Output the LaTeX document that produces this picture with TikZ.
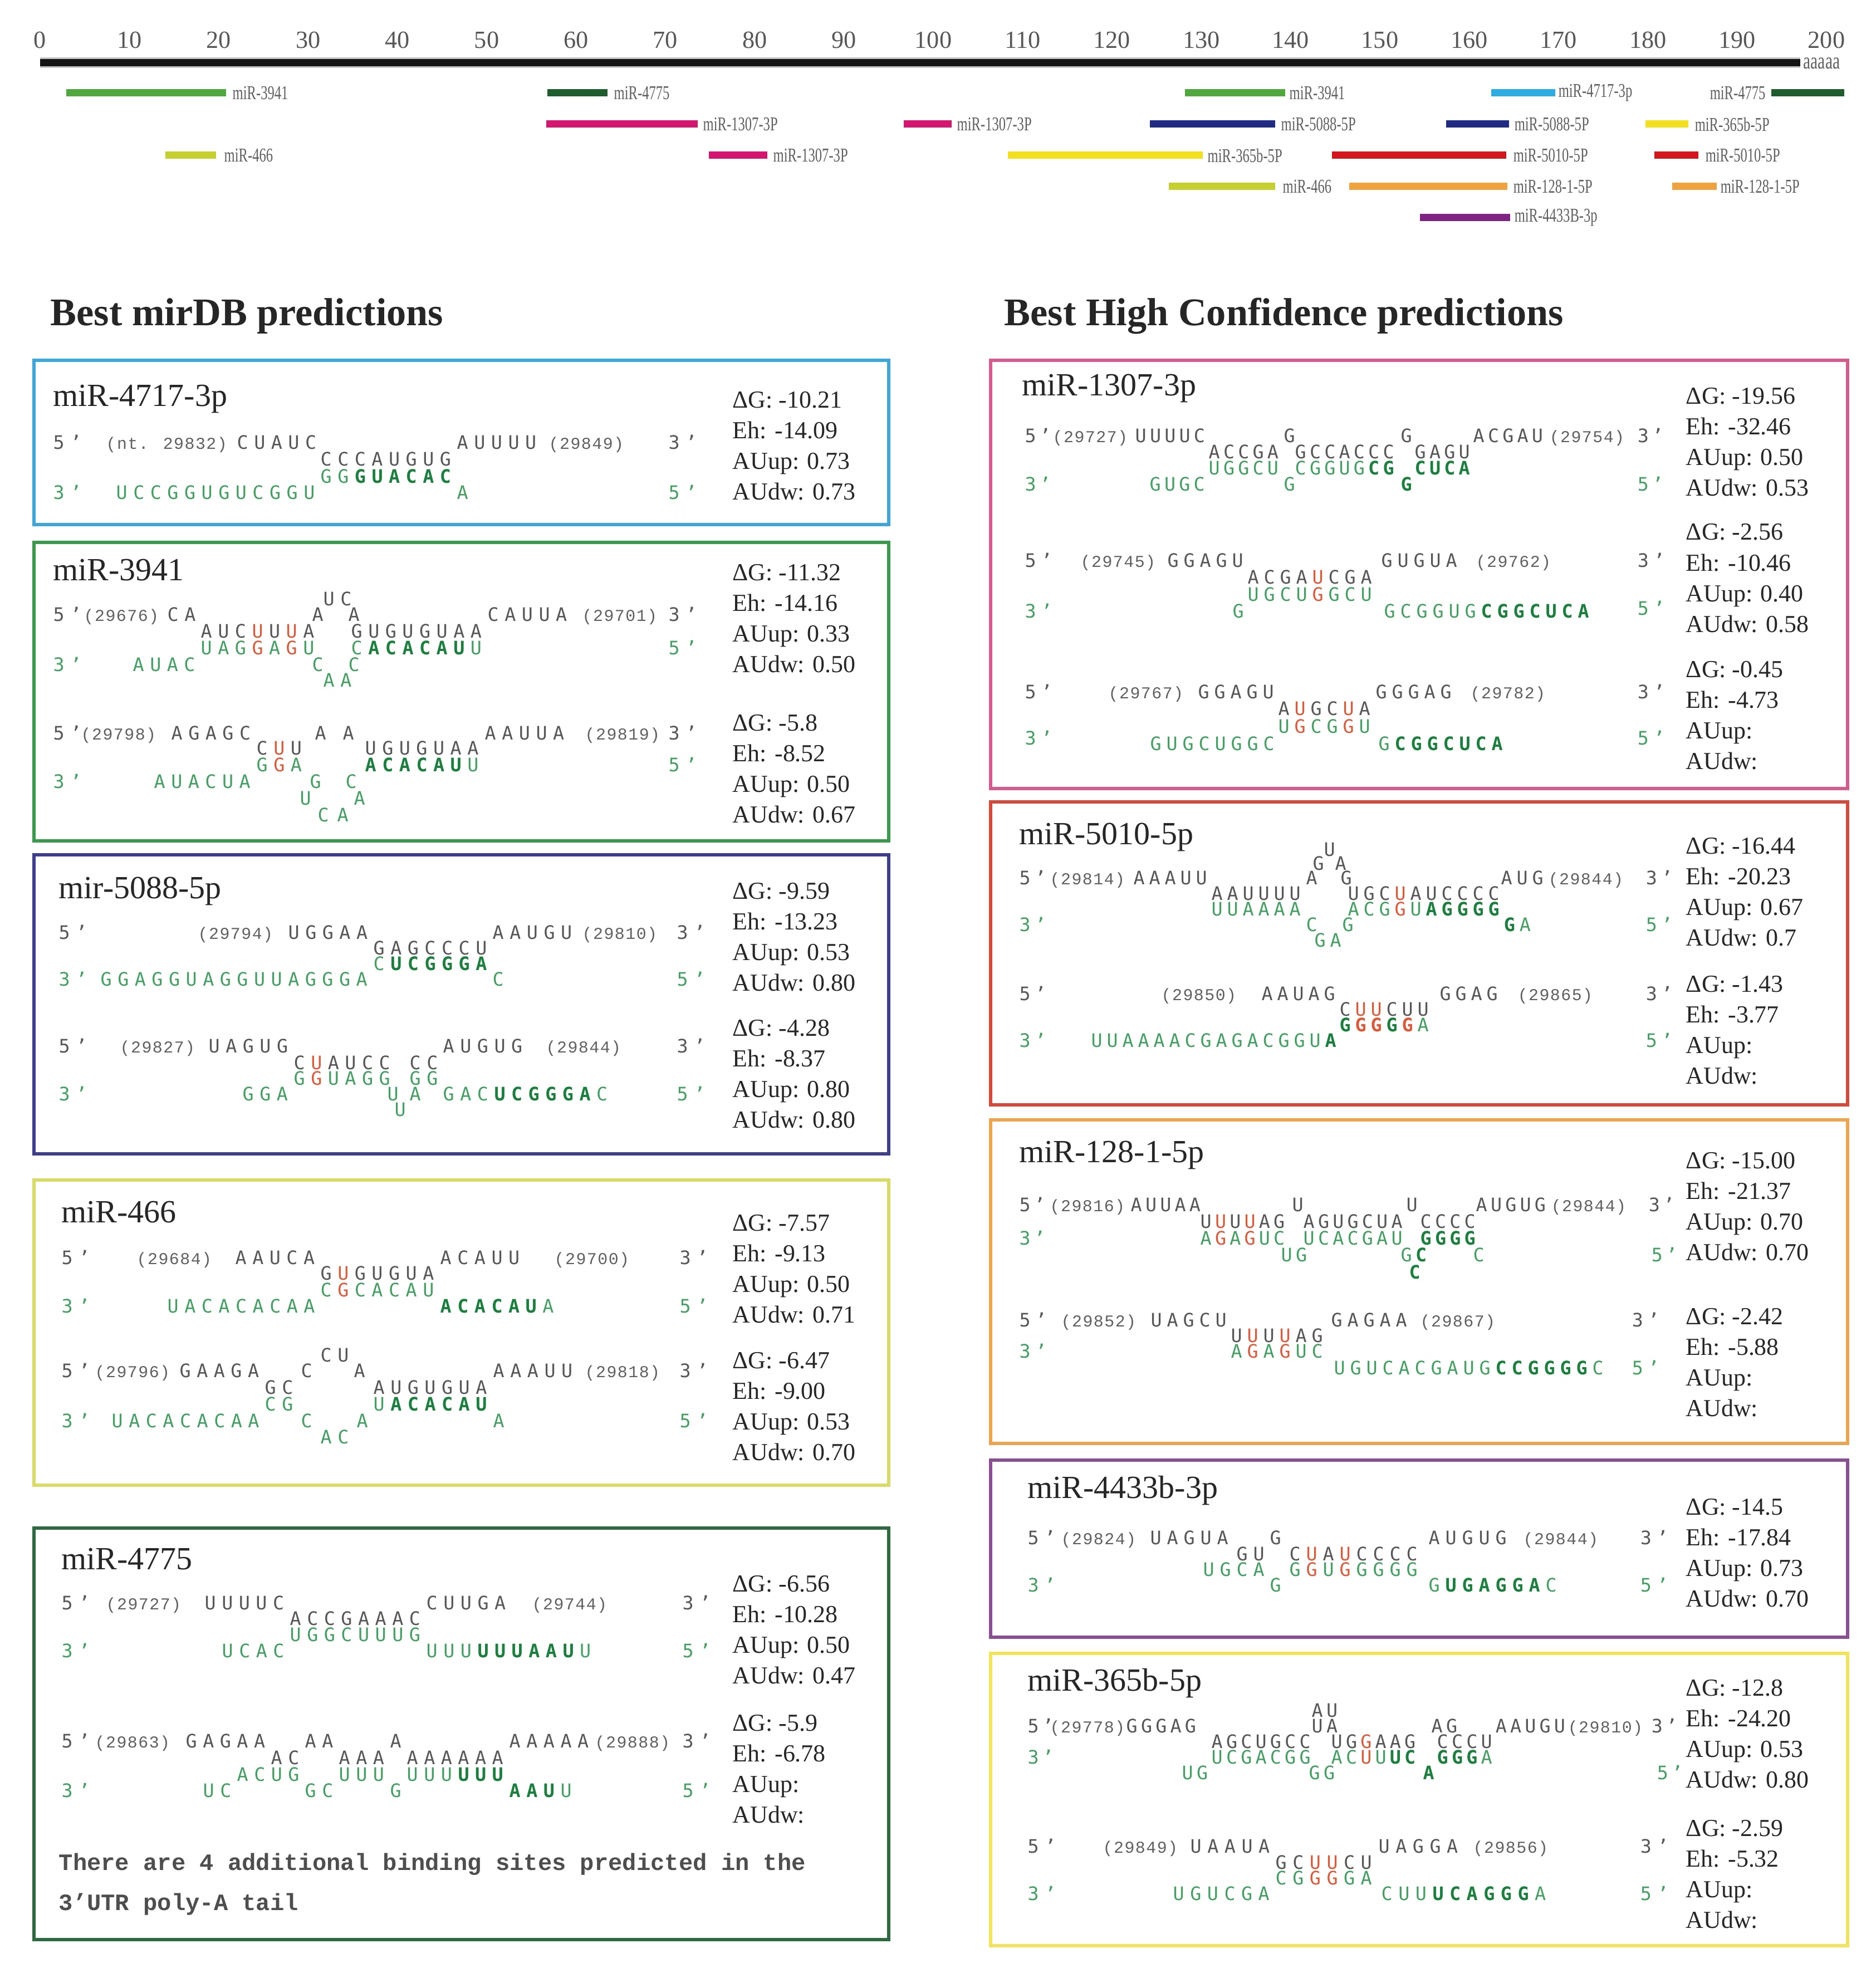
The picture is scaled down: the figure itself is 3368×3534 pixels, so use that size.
\documentclass[tikz,border=0pt]{standalone}
\usepackage{fontspec}
\setmainfont{Liberation Serif}
\newfontfamily\seqfam{DejaVu Sans Mono}
\newfontfamily\posfam{Liberation Mono}[LetterSpace=5]
\newfontfamily\notefam{Liberation Mono}
\newfontfamily\condf{Liberation Serif}[FakeStretch=0.7]

\definecolor{tgray}{HTML}{575757}
\definecolor{pgray}{HTML}{606060}
\definecolor{mgreen}{HTML}{43A062}
\definecolor{seedg}{HTML}{1B7F3E}
\definecolor{wobr}{HTML}{DA5A3A}
\definecolor{dtext}{HTML}{262626}
\definecolor{lgray}{HTML}{606060}
\definecolor{c3941}{HTML}{4FA83D}
\definecolor{c4775}{HTML}{1E5E2E}
\definecolor{c1307}{HTML}{D5156F}
\definecolor{c4717}{HTML}{2BACE2}
\definecolor{c5088}{HTML}{202B85}
\definecolor{c365}{HTML}{F2DF1E}
\definecolor{c466}{HTML}{C5CF2E}
\definecolor{c5010}{HTML}{D4151C}
\definecolor{c128}{HTML}{F0A33C}
\definecolor{c4433}{HTML}{7E2284}
\definecolor{bA}{HTML}{3CA7D8}
\definecolor{bB}{HTML}{3A9A4B}
\definecolor{bC}{HTML}{3F3D8E}
\definecolor{bD}{HTML}{D8DC66}
\definecolor{bE}{HTML}{2E6A3F}
\definecolor{bF}{HTML}{D55B8E}
\definecolor{bG}{HTML}{D9473A}
\definecolor{bH}{HTML}{ECA54C}
\definecolor{bI}{HTML}{8A4E94}
\definecolor{bJ}{HTML}{F1E35A}

% one letter per cell; lower case = G:U wobble (red), *...* = seed (bold)
\newlength\sqpitch
\setlength\sqpitch{3.06mm}
\newif\ifsqbold
\newif\ifsqred
\def\sqstop{}
\newcommand\sq[1]{\sqboldfalse\sqloop#1\sqstop}
\def\sqloop#1{\ifx#1\sqstop\else\sqchar{#1}\expandafter\sqloop\fi}
\def\sqchar#1{%
  \ifx*#1\ifsqbold\sqboldfalse\else\sqboldtrue\fi
  \else
    \sqredfalse
    \ifnum`#1>96 \ifnum`#1<123 \sqredtrue\fi\fi
    \makebox[\sqpitch][l]{\ifsqbold\bfseries\color{seedg}\fi
      \ifsqred\color{wobr}\uppercase{#1}\else#1\fi}%
  \fi}

\begin{document}
\begin{tikzpicture}[x=0.1mm, y=-0.1mm,
    every node/.style={inner sep=0pt, anchor=base west},
    tg/.style={font=\seqfam\fontsize{9.5}{11}\selectfont, text=tgray},
    mr/.style={font=\seqfam\fontsize{9.5}{11}\selectfont, text=mgreen},
    posn/.style={font=\posfam\fontsize{8.5}{10}\selectfont, text=pgray},
    stat/.style={font=\fontsize{12.5}{14}\selectfont, text=dtext},
    ttl/.style={font=\fontsize{16.5}{18}\selectfont, text=dtext},
    hdr/.style={font=\bfseries\fontsize{20}{22}\selectfont, text=dtext},
    notetxt/.style={font=\notefam\bfseries\fontsize{12}{14}\selectfont, text=tgray!90!black},
    ticklab/.style={anchor=base, font=\fontsize{12.6}{14}\selectfont, text=tgray},
    tlab/.style={anchor=west, font=\condf\fontsize{10}{11}\selectfont, text=lgray},
    trk/.style={line width=1.3mm},
    predbox/.style={line width=1.7pt}]

  \fill[white] (0,0) rectangle (3368,3534);
  \useasboundingbox (0,0) rectangle (3368,3534);

  \begin{scope}
    \foreach \v in {0,10,...,200}
      \node[ticklab] (t\v) at ({72+16.04*\v},87) {\v};
    \draw[line width=1.9mm, gray!45] (72,113) -- (3233,113);
    \draw[line width=1.3mm, black!92] (72,113) -- (3233,113);
    \node[font=\condf\fontsize{12}{13}\selectfont, text=lgray] (polyA) at (3238,124) {aaaaa};
    \foreach \xa/\xb/\yy/\cc/\lx/\lab [count=\i] in {
        119/406/167/c3941/417/miR-3941,
        983/1091/167/c4775/1102/miR-4775,
        2128/2308/167/c3941/2315/miR-3941,
        2678/2793/167/c4717/2798/miR-4717-3p,
        3181/3312/167/c4775/3070/miR-4775,
        981/1253/223/c1307/1262/miR-1307-3P,
        1623/1709/223/c1307/1718/miR-1307-3P,
        2065/2290/223/c5088/2300/miR-5088-5P,
        2597/2710/223/c5088/2719/miR-5088-5P,
        2955/3032/223/c365/3043/miR-365b-5P,
        297/388/279/c466/402/miR-466,
        1273/1378/279/c1307/1388/miR-1307-3P,
        1810/2160/279/c365/2168/miR-365b-5P,
        2392/2705/279/c5010/2717/miR-5010-5P,
        2971/3050/279/c5010/3062/miR-5010-5P,
        2099/2290/335/c466/2303/miR-466,
        2423/2707/335/c128/2717/miR-128-1-5P,
        3003/3083/335/c128/3089/miR-128-1-5P,
        2550/2712/391/c4433/2719/miR-4433B-3p}
    {
      \draw[trk, draw=\cc] (\xa,\yy) -- (\xb,\yy);
      \node[tlab] (m\i) at (\lx,\yy) {\lab};
    }
  \end{scope}

  \node[hdr] (hdrL) at (90,585) {Best mirDB predictions};
  \node[hdr] (hdrR) at (1803,585) {Best High Confidence predictions};

  % miR-4717-3p
  \begin{scope}
    \draw[predbox, draw=bA] (61,647) rectangle (1596,942);
    \node[ttl] (tA) at (95,730) {miR-4717-3p};
    \foreach \s [count=\k] in {ΔG: -10.21, Eh: -14.09, AUup: 0.73, AUdw: 0.73}
      \node[stat] (sA\k) at (1315,678+55*\k) {\s};
    \node[tg] (a1) at (95,807) {\sq{5’}};
    \node[posn] (a2) at (190,807) {(nt. 29832)};
    \node[tg] (a3) at (425,807) {\sq{CUAUC}};
    \node[tg] (a4) at (575,837) {\sq{CCCAUGUG}};
    \node[tg] (a5) at (820,807) {\sq{AUUUU}};
    \node[posn] (a6) at (985,807) {(29849)};
    \node[tg] (a7) at (1200,807) {\sq{3’}};
    \node[mr] (a8) at (575,868) {\sq{GG*GUACAC*}};
    \node[mr] (a9) at (95,897) {\sq{3’}};
    \node[mr] (a10) at (208,897) {\sq{UCCGGUGUCGGU}};
    \node[mr] (a11) at (820,897) {\sq{A}};
    \node[mr] (a12) at (1200,897) {\sq{5’}};
  \end{scope}

  % miR-3941
  \begin{scope}
    \draw[predbox, draw=bB] (61,974) rectangle (1596,1510);
    \node[ttl] (tB) at (95,1042) {miR-3941};
    \foreach \s [count=\k] in {ΔG: -11.32, Eh: -14.16, AUup: 0.33, AUdw: 0.50}
      \node[stat] (sB\k) at (1315,987+55*\k) {\s};
    \foreach \s [count=\k] in {ΔG: -5.8, Eh: -8.52, AUup: 0.50, AUdw: 0.67}
      \node[stat] (sBb\k) at (1315,1257+55*\k) {\s};
    \node[tg] (b1) at (95,1115) {\sq{5’}};
    \node[posn] (b2) at (150,1115) {(29676)};
    \node[tg] (b3) at (300,1115) {\sq{CA}};
    \node[tg] (b4) at (560,1115) {\sq{A}};
    \node[tg] (b5) at (580,1087) {\sq{UC}};
    \node[tg] (b6) at (625,1115) {\sq{A}};
    \node[tg] (b7) at (360,1145) {\sq{AUCuUuA}};
    \node[tg] (b8) at (630,1145) {\sq{GUGUGUAA}};
    \node[tg] (b9) at (875,1115) {\sq{CAUUA}};
    \node[posn] (b10) at (1045,1115) {(29701)};
    \node[tg] (b11) at (1200,1115) {\sq{3’}};
    \node[mr] (b12) at (360,1175) {\sq{UAGgAgU}};
    \node[mr] (b13) at (630,1175) {\sq{C*ACACAU*U}};
    \node[mr] (b14) at (1200,1175) {\sq{5’}};
    \node[mr] (b15) at (95,1205) {\sq{3’}};
    \node[mr] (b16) at (238,1205) {\sq{AUAC}};
    \node[mr] (b17) at (560,1205) {\sq{C}};
    \node[mr] (b18) at (625,1205) {\sq{C}};
    \node[mr] (b19) at (580,1233) {\sq{AA}};
    \node[tg] (b20) at (95,1328) {\sq{5’}};
    \node[posn] (b21) at (145,1328) {(29798)};
    \node[tg] (b22) at (307,1328) {\sq{AGAGC}};
    \node[tg] (b23) at (565,1328) {\sq{A}};
    \node[tg] (b24) at (615,1328) {\sq{A}};
    \node[tg] (b25) at (460,1355) {\sq{CuU}};
    \node[tg] (b26) at (655,1355) {\sq{UGUGUAA}};
    \node[tg] (b27) at (870,1328) {\sq{AAUUA}};
    \node[posn] (b28) at (1050,1328) {(29819)};
    \node[tg] (b29) at (1200,1328) {\sq{3’}};
    \node[mr] (b30) at (460,1385) {\sq{GgA}};
    \node[mr] (b31) at (655,1385) {\sq{*ACACAU*U}};
    \node[mr] (b32) at (1200,1385) {\sq{5’}};
    \node[mr] (b33) at (95,1415) {\sq{3’}};
    \node[mr] (b34) at (276,1415) {\sq{AUACUA}};
    \node[mr] (b35) at (556,1415) {\sq{G}};
    \node[mr] (b36) at (620,1415) {\sq{C}};
    \node[mr] (b37) at (538,1445) {\sq{U}};
    \node[mr] (b38) at (635,1445) {\sq{A}};
    \node[mr] (b39) at (570,1475) {\sq{C}};
    \node[mr] (b40) at (605,1475) {\sq{A}};
  \end{scope}

  % mir-5088-5p
  \begin{scope}
    \draw[predbox, draw=bC] (61,1535) rectangle (1596,2072);
    \node[ttl] (tC) at (105,1613) {mir-5088-5p};
    \foreach \s [count=\k] in {ΔG: -9.59, Eh: -13.23, AUup: 0.53, AUdw: 0.80}
      \node[stat] (sC\k) at (1315,1559+55*\k) {\s};
    \foreach \s [count=\k] in {ΔG: -4.28, Eh: -8.37, AUup: 0.80, AUdw: 0.80}
      \node[stat] (sCb\k) at (1315,1805+55*\k) {\s};
    \node[tg] (c1) at (105,1686) {\sq{5’}};
    \node[posn] (c2) at (355,1686) {(29794)};
    \node[tg] (c3) at (517,1686) {\sq{UGGAA}};
    \node[tg] (c4) at (670,1714) {\sq{GAGCCCU}};
    \node[tg] (c5) at (884,1686) {\sq{AAUGU}};
    \node[posn] (c6) at (1045,1686) {(29810)};
    \node[tg] (c7) at (1215,1686) {\sq{3’}};
    \node[mr] (c8) at (670,1742) {\sq{C*UCGGGA*}};
    \node[mr] (c9) at (105,1770) {\sq{3’}};
    \node[mr] (c10) at (180,1770) {\sq{GGAGGUAGGUUAGGGA}};
    \node[mr] (c11) at (884,1770) {\sq{C}};
    \node[mr] (c12) at (1215,1770) {\sq{5’}};
    \node[tg] (c13) at (105,1890) {\sq{5’}};
    \node[posn] (c14) at (215,1890) {(29827)};
    \node[tg] (c15) at (374,1890) {\sq{UAGUG}};
    \node[tg] (c16) at (527,1920) {\sq{CuAUCC}};
    \node[tg] (c17) at (735,1920) {\sq{CC}};
    \node[tg] (c18) at (795,1890) {\sq{AUGUG}};
    \node[posn] (c19) at (980,1890) {(29844)};
    \node[tg] (c20) at (1215,1890) {\sq{3’}};
    \node[mr] (c21) at (527,1948) {\sq{GgUAGG}};
    \node[mr] (c22) at (735,1948) {\sq{GG}};
    \node[mr] (c23) at (105,1976) {\sq{3’}};
    \node[mr] (c24) at (435,1976) {\sq{GGA}};
    \node[mr] (c25) at (695,1976) {\sq{U}};
    \node[mr] (c26) at (735,1976) {\sq{A}};
    \node[mr] (c27) at (795,1976) {\sq{GAC*UCGGGA*C}};
    \node[mr] (c28) at (1215,1976) {\sq{5’}};
    \node[mr] (c29) at (708,2004) {\sq{U}};
  \end{scope}

  % miR-466
  \begin{scope}
    \draw[predbox, draw=bD] (61,2119) rectangle (1596,2667);
    \node[ttl] (tD) at (110,2195) {miR-466};
    \foreach \s [count=\k] in {ΔG: -7.57, Eh: -9.13, AUup: 0.50, AUdw: 0.71}
      \node[stat] (sD\k) at (1315,2155+55*\k) {\s};
    \foreach \s [count=\k] in {ΔG: -6.47, Eh: -9.00, AUup: 0.53, AUdw: 0.70}
      \node[stat] (sDb\k) at (1315,2402+55*\k) {\s};
    \node[tg] (d1) at (110,2270) {\sq{5’}};
    \node[posn] (d2) at (245,2270) {(29684)};
    \node[tg] (d3) at (422,2270) {\sq{AAUCA}};
    \node[tg] (d4) at (575,2298) {\sq{GuGUGUA}};
    \node[tg] (d5) at (790,2270) {\sq{ACAUU}};
    \node[posn] (d6) at (995,2270) {(29700)};
    \node[tg] (d7) at (1220,2270) {\sq{3’}};
    \node[mr] (d8) at (575,2328) {\sq{CgCACAU}};
    \node[mr] (d9) at (110,2357) {\sq{3’}};
    \node[mr] (d10) at (300,2357) {\sq{UACACACAA}};
    \node[mr] (d11) at (790,2357) {\sq{*ACACAU*A}};
    \node[mr] (d12) at (1220,2357) {\sq{5’}};
    \node[tg] (d13) at (110,2473) {\sq{5’}};
    \node[posn] (d14) at (170,2473) {(29796)};
    \node[tg] (d15) at (322,2473) {\sq{GAAGA}};
    \node[tg] (d16) at (540,2473) {\sq{C}};
    \node[tg] (d17) at (575,2445) {\sq{CU}};
    \node[tg] (d18) at (635,2473) {\sq{A}};
    \node[tg] (d19) at (475,2503) {\sq{GC}};
    \node[tg] (d20) at (670,2503) {\sq{AUGUGUA}};
    \node[tg] (d21) at (885,2473) {\sq{AAAUU}};
    \node[posn] (d22) at (1050,2473) {(29818)};
    \node[tg] (d23) at (1220,2473) {\sq{3’}};
    \node[mr] (d24) at (475,2533) {\sq{CG}};
    \node[mr] (d25) at (670,2533) {\sq{U*ACACAU*}};
    \node[mr] (d26) at (110,2563) {\sq{3’}};
    \node[mr] (d27) at (200,2563) {\sq{UACACACAA}};
    \node[mr] (d28) at (540,2563) {\sq{C}};
    \node[mr] (d29) at (640,2563) {\sq{A}};
    \node[mr] (d30) at (885,2563) {\sq{A}};
    \node[mr] (d31) at (1220,2563) {\sq{5’}};
    \node[mr] (d32) at (575,2592) {\sq{AC}};
  \end{scope}

  % miR-4775
  \begin{scope}
    \draw[predbox, draw=bE] (61,2744) rectangle (1596,3483);
    \node[ttl] (tE) at (110,2818) {miR-4775};
    \foreach \s [count=\k] in {ΔG: -6.56, Eh: -10.28, AUup: 0.50, AUdw: 0.47}
      \node[stat] (sE\k) at (1315,2803+55*\k) {\s};
    \foreach \s [count=\k] in {ΔG: -5.9, Eh: -6.78, AUup:, AUdw:}
      \node[stat] (sEb\k) at (1315,3053+55*\k) {\s};
    \node[tg] (e1) at (110,2890) {\sq{5’}};
    \node[posn] (e2) at (190,2890) {(29727)};
    \node[tg] (e3) at (367,2890) {\sq{UUUUC}};
    \node[tg] (e4) at (520,2918) {\sq{ACCGAAAC}};
    \node[tg] (e5) at (765,2890) {\sq{CUUGA}};
    \node[posn] (e6) at (955,2890) {(29744)};
    \node[tg] (e7) at (1225,2890) {\sq{3’}};
    \node[mr] (e8) at (520,2947) {\sq{UGGCUUUG}};
    \node[mr] (e9) at (110,2976) {\sq{3’}};
    \node[mr] (e10) at (398,2976) {\sq{UCAC}};
    \node[mr] (e11) at (765,2976) {\sq{UUU*UUUAAU*U}};
    \node[mr] (e12) at (1225,2976) {\sq{5’}};
    \node[tg] (e13) at (110,3138) {\sq{5’}};
    \node[posn] (e14) at (170,3138) {(29863)};
    \node[tg] (e15) at (333,3138) {\sq{GAGAA}};
    \node[tg] (e16) at (547,3138) {\sq{AA}};
    \node[tg] (e17) at (700,3138) {\sq{A}};
    \node[tg] (e18) at (486,3168) {\sq{AC}};
    \node[tg] (e19) at (608,3168) {\sq{AAA}};
    \node[tg] (e20) at (730,3168) {\sq{AAAAAA}};
    \node[tg] (e21) at (914,3138) {\sq{AAAAA}};
    \node[posn] (e22) at (1068,3138) {(29888)};
    \node[tg] (e23) at (1225,3138) {\sq{3’}};
    \node[mr] (e24) at (425,3198) {\sq{ACUG}};
    \node[mr] (e25) at (608,3198) {\sq{UUU}};
    \node[mr] (e26) at (730,3198) {\sq{UUU*UUU*}};
    \node[mr] (e27) at (110,3227) {\sq{3’}};
    \node[mr] (e28) at (364,3227) {\sq{UC}};
    \node[mr] (e29) at (547,3227) {\sq{GC}};
    \node[mr] (e30) at (700,3227) {\sq{G}};
    \node[mr] (e31) at (914,3227) {\sq{*AAU*U}};
    \node[mr] (e32) at (1225,3227) {\sq{5’}};
    \node[notetxt] (e33) at (105,3358) {There are 4 additional binding sites predicted in the};
    \node[notetxt] (e34) at (105,3430) {3’UTR poly-A tail};
  \end{scope}

  % miR-1307-3p
  \begin{scope}
    \draw[predbox, draw=bF] (1779,647) rectangle (3318,1416);
    \node[ttl] (tF) at (1835,711) {miR-1307-3p};
    \foreach \s [count=\k] in {ΔG: -19.56, Eh: -32.46, AUup: 0.50, AUdw: 0.53}
      \node[stat] (sF\k) at (3027,671+55*\k) {\s};
    \foreach \s [count=\k] in {ΔG: -2.56, Eh: -10.46, AUup: 0.40, AUdw: 0.58}
      \node[stat] (sFb\k) at (3027,915+55*\k) {\s};
    \foreach \s [count=\k] in {ΔG: -0.45, Eh: -4.73, AUup:, AUdw:}
      \node[stat] (sFc\k) at (3027,1161+55*\k) {\s};
    \setlength\sqpitch{2.63mm}
    \node[tg] (f1) at (1840,795) {\sq{5’}};
    \node[posn] (f2) at (1890,795) {(29727)};
    \node[tg] (f3) at (2038,795) {\sq{UUUUC}};
    \node[tg] (f4) at (2305,795) {\sq{G}};
    \node[tg] (f5) at (2515,795) {\sq{G}};
    \node[tg] (f6) at (2645,795) {\sq{ACGAU}};
    \node[posn] (f7) at (2782,795) {(29754)};
    \node[tg] (f8) at (2940,795) {\sq{3’}};
    \node[tg] (f9) at (2170,824) {\sq{ACCGA}};
    \node[tg] (f10) at (2325,824) {\sq{GCCACCC}};
    \node[tg] (f11) at (2540,824) {\sq{GAGU}};
    \node[mr] (f12) at (2170,853) {\sq{UGGCU}};
    \node[mr] (f13) at (2325,853) {\sq{CGGUG*CG*}};
    \node[mr] (f14) at (2540,853) {\sq{*CUCA*}};
    \node[mr] (f15) at (1840,882) {\sq{3’}};
    \node[mr] (f16) at (2064,882) {\sq{GUGC}};
    \node[mr] (f17) at (2305,882) {\sq{G}};
    \node[mr] (f18) at (2515,882) {\sq{*G*}};
    \node[mr] (f19) at (2940,882) {\sq{5’}};
    \setlength\sqpitch{2.9mm}
    \node[tg] (f20) at (1840,1018) {\sq{5’}};
    \node[posn] (f21) at (1940,1018) {(29745)};
    \node[tg] (f22) at (2096,1018) {\sq{GGAGU}};
    \node[tg] (f23) at (2240,1048) {\sq{ACGAuCGA}};
    \node[tg] (f24) at (2480,1018) {\sq{GUGUA}};
    \node[posn] (f25) at (2650,1018) {(29762)};
    \node[tg] (f26) at (2940,1018) {\sq{3’}};
    \node[mr] (f27) at (2240,1079) {\sq{UGCUgGCU}};
    \node[mr] (f28) at (1840,1109) {\sq{3’}};
    \node[mr] (f29) at (2213,1109) {\sq{G}};
    \node[mr] (f30) at (2485,1109) {\sq{GCGGUG*CGGCUCA*}};
    \node[mr] (f31) at (2940,1104) {\sq{5’}};
    \node[tg] (f32) at (1840,1254) {\sq{5’}};
    \node[posn] (f33) at (1990,1254) {(29767)};
    \node[tg] (f34) at (2151,1254) {\sq{GGAGU}};
    \node[tg] (f35) at (2295,1284) {\sq{AuGCuA}};
    \node[tg] (f36) at (2470,1254) {\sq{GGGAG}};
    \node[posn] (f37) at (2640,1254) {(29782)};
    \node[tg] (f38) at (2940,1254) {\sq{3’}};
    \node[mr] (f39) at (2295,1316) {\sq{UgCGgU}};
    \node[mr] (f40) at (1840,1337) {\sq{3’}};
    \node[mr] (f41) at (2065,1347) {\sq{GUGCUGGC}};
    \node[mr] (f42) at (2475,1347) {\sq{G*CGGCUCA*}};
    \node[mr] (f43) at (2940,1337) {\sq{5’}};
  \end{scope}

  % miR-5010-5p
  \begin{scope}
    \draw[predbox, draw=bG] (1779,1440) rectangle (3318,1984);
    \node[ttl] (tG) at (1830,1516) {miR-5010-5p};
    \foreach \s [count=\k] in {ΔG: -16.44, Eh: -20.23, AUup: 0.67, AUdw: 0.7}
      \node[stat] (sG\k) at (3027,1478+55*\k) {\s};
    \foreach \s [count=\k] in {ΔG: -1.43, Eh: -3.77, AUup:, AUdw:}
      \node[stat] (sGb\k) at (3027,1726+55*\k) {\s};
    \setlength\sqpitch{2.8mm}
    \node[tg] (g1) at (1830,1588) {\sq{5’}};
    \node[posn] (g2) at (1885,1588) {(29814)};
    \node[tg] (g3) at (2035,1588) {\sq{AAAUU}};
    \node[tg] (g4) at (2345,1588) {\sq{A}};
    \node[tg] (g5) at (2357,1562) {\sq{G}};
    \node[tg] (g6) at (2377,1537) {\sq{U}};
    \node[tg] (g7) at (2397,1562) {\sq{A}};
    \node[tg] (g8) at (2407,1588) {\sq{G}};
    \node[tg] (g9) at (2175,1616) {\sq{AAUUUU}};
    \node[tg] (g10) at (2420,1616) {\sq{UGCuAUCCCC}};
    \node[tg] (g11) at (2695,1588) {\sq{AUG}};
    \node[posn] (g12) at (2780,1588) {(29844)};
    \node[tg] (g13) at (2955,1588) {\sq{3’}};
    \node[mr] (g14) at (2175,1644) {\sq{UUAAAA}};
    \node[mr] (g15) at (2420,1644) {\sq{ACGgU*AGGGG*}};
    \node[mr] (g16) at (1830,1672) {\sq{3’}};
    \node[mr] (g17) at (2345,1672) {\sq{C}};
    \node[mr] (g18) at (2410,1672) {\sq{G}};
    \node[mr] (g19) at (2700,1672) {\sq{*G*A}};
    \node[mr] (g20) at (2955,1672) {\sq{5’}};
    \node[mr] (g21) at (2360,1700) {\sq{GA}};
    \node[tg] (g22) at (1830,1796) {\sq{5’}};
    \node[posn] (g23) at (2085,1796) {(29850)};
    \node[tg] (g24) at (2265,1796) {\sq{AAUAG}};
    \node[tg] (g25) at (2405,1824) {\sq{CuuCUU}};
    \node[tg] (g26) at (2585,1796) {\sq{GGAG}};
    \node[posn] (g27) at (2725,1796) {(29865)};
    \node[tg] (g28) at (2955,1796) {\sq{3’}};
    \node[mr] (g29) at (2405,1852) {\sq{*GggGg*A}};
    \node[mr] (g30) at (1830,1880) {\sq{3’}};
    \node[mr] (g31) at (1959,1880) {\sq{UUAAAACGAGACGGU*A*}};
    \node[mr] (g32) at (2955,1880) {\sq{5’}};
  \end{scope}

  % miR-128-1-5p
  \begin{scope}
    \draw[predbox, draw=bH] (1779,2011) rectangle (3318,2592);
    \node[ttl] (tH) at (1830,2087) {miR-128-1-5p};
    \foreach \s [count=\k] in {ΔG: -15.00, Eh: -21.37, AUup: 0.70, AUdw: 0.70}
      \node[stat] (sH\k) at (3027,2043+55*\k) {\s};
    \foreach \s [count=\k] in {ΔG: -2.42, Eh: -5.88, AUup:, AUdw:}
      \node[stat] (sHb\k) at (3027,2323+55*\k) {\s};
    \setlength\sqpitch{2.63mm}
    \node[tg] (h1) at (1830,2175) {\sq{5’}};
    \node[posn] (h2) at (1885,2175) {(29816)};
    \node[tg] (h3) at (2030,2175) {\sq{AUUAA}};
    \node[tg] (h4) at (2320,2175) {\sq{U}};
    \node[tg] (h5) at (2525,2175) {\sq{U}};
    \node[tg] (h6) at (2650,2175) {\sq{AUGUG}};
    \node[posn] (h7) at (2785,2175) {(29844)};
    \node[tg] (h8) at (2960,2175) {\sq{3’}};
    \node[tg] (h9) at (2155,2205) {\sq{UuUuAG}};
    \node[tg] (h10) at (2340,2205) {\sq{AGUGCUA}};
    \node[tg] (h11) at (2550,2205) {\sq{CCCC}};
    \node[mr] (h12) at (1830,2235) {\sq{3’}};
    \node[mr] (h13) at (2155,2235) {\sq{AgAgUC}};
    \node[mr] (h14) at (2340,2235) {\sq{UCACGAU}};
    \node[mr] (h15) at (2550,2235) {\sq{*GGGG*}};
    \node[mr] (h16) at (2300,2265) {\sq{UG}};
    \node[mr] (h17) at (2515,2265) {\sq{G*C*}};
    \node[mr] (h18) at (2645,2265) {\sq{C}};
    \node[mr] (h19) at (2965,2265) {\sq{5’}};
    \node[mr] (h20) at (2530,2296) {\sq{*C*}};
    \setlength\sqpitch{2.9mm}
    \node[tg] (h21) at (1830,2382) {\sq{5’}};
    \node[posn] (h22) at (1905,2382) {(29852)};
    \node[tg] (h23) at (2066,2382) {\sq{UAGCU}};
    \node[tg] (h24) at (2210,2410) {\sq{UuUuAG}};
    \node[tg] (h25) at (2390,2382) {\sq{GAGAA}};
    \node[posn] (h26) at (2550,2382) {(29867)};
    \node[tg] (h27) at (2930,2382) {\sq{3’}};
    \node[mr] (h28) at (2210,2438) {\sq{AgAgUC}};
    \node[mr] (h29) at (1830,2438) {\sq{3’}};
    \node[mr] (h30) at (2395,2468) {\sq{UGUCACGAUG*CCGGGG*C}};
    \node[mr] (h31) at (2930,2468) {\sq{5’}};
  \end{scope}

  % miR-4433b-3p
  \begin{scope}
    \draw[predbox, draw=bI] (1779,2622) rectangle (3318,2940);
    \node[ttl] (tI) at (1845,2690) {miR-4433b-3p};
    \foreach \s [count=\k] in {ΔG: -14.5, Eh: -17.84, AUup: 0.73, AUdw: 0.70}
      \node[stat] (sI\k) at (3027,2665+55*\k) {\s};
    \setlength\sqpitch{3mm}
    \node[tg] (i1) at (1845,2773) {\sq{5’}};
    \node[posn] (i2) at (1905,2773) {(29824)};
    \node[tg] (i3) at (2065,2773) {\sq{UAGUA}};
    \node[tg] (i4) at (2280,2773) {\sq{G}};
    \node[tg] (i5) at (2220,2802) {\sq{GU}};
    \node[tg] (i6) at (2315,2802) {\sq{CuAuCCCC}};
    \node[tg] (i7) at (2565,2773) {\sq{AUGUG}};
    \node[posn] (i8) at (2735,2773) {(29844)};
    \node[tg] (i9) at (2945,2773) {\sq{3’}};
    \node[mr] (i10) at (2160,2830) {\sq{UGCA}};
    \node[mr] (i11) at (2315,2830) {\sq{GgUgGGGG}};
    \node[mr] (i12) at (1845,2858) {\sq{3’}};
    \node[mr] (i13) at (2280,2858) {\sq{G}};
    \node[mr] (i14) at (2565,2858) {\sq{G*UGAGGA*C}};
    \node[mr] (i15) at (2945,2858) {\sq{5’}};
  \end{scope}

  % miR-365b-5p
  \begin{scope}
    \draw[predbox, draw=bJ] (1779,2969) rectangle (3318,3494);
    \node[ttl] (tJ) at (1845,3036) {miR-365b-5p};
    \foreach \s [count=\k] in {ΔG: -12.8, Eh: -24.20, AUup: 0.53, AUdw: 0.80}
      \node[stat] (sJ\k) at (3027,2990+55*\k) {\s};
    \foreach \s [count=\k] in {ΔG: -2.59, Eh: -5.32, AUup:, AUdw:}
      \node[stat] (sJb\k) at (3027,3242+55*\k) {\s};
    \setlength\sqpitch{2.63mm}
    \node[tg] (j1) at (1845,3111) {\sq{5’}};
    \node[posn] (j2) at (1885,3111) {(29778)};
    \node[tg] (j3) at (2022,3111) {\sq{GGGAG}};
    \node[tg] (j4) at (2355,3083) {\sq{AU}};
    \node[tg] (j5) at (2355,3111) {\sq{UA}};
    \node[tg] (j6) at (2570,3111) {\sq{AG}};
    \node[tg] (j7) at (2685,3111) {\sq{AAUGU}};
    \node[posn] (j8) at (2815,3111) {(29810)};
    \node[tg] (j9) at (2965,3111) {\sq{3’}};
    \node[tg] (j10) at (2175,3139) {\sq{AGCUGCC}};
    \node[tg] (j11) at (2390,3139) {\sq{UGgAAG}};
    \node[tg] (j12) at (2580,3139) {\sq{CCCU}};
    \node[mr] (j13) at (1845,3167) {\sq{3’}};
    \node[mr] (j14) at (2175,3167) {\sq{UCGACGG}};
    \node[mr] (j15) at (2390,3167) {\sq{ACuU*UC*}};
    \node[mr] (j16) at (2580,3167) {\sq{*GGG*A}};
    \node[mr] (j17) at (2122,3195) {\sq{UG}};
    \node[mr] (j18) at (2350,3195) {\sq{GG}};
    \node[mr] (j19) at (2555,3195) {\sq{*A*}};
    \node[mr] (j20) at (2975,3195) {\sq{5’}};
    \setlength\sqpitch{3.06mm}
    \node[tg] (j21) at (1845,3327) {\sq{5’}};
    \node[posn] (j22) at (1980,3327) {(29849)};
    \node[tg] (j23) at (2137,3327) {\sq{UAAUA}};
    \node[tg] (j24) at (2290,3356) {\sq{GCuuCU}};
    \node[tg] (j25) at (2475,3327) {\sq{UAGGA}};
    \node[posn] (j26) at (2645,3327) {(29856)};
    \node[tg] (j27) at (2945,3327) {\sq{3’}};
    \node[mr] (j28) at (2290,3384) {\sq{CGggGA}};
    \node[mr] (j29) at (1845,3412) {\sq{3’}};
    \node[mr] (j30) at (2106,3412) {\sq{UGUCGA}};
    \node[mr] (j31) at (2480,3412) {\sq{CUU*UCAGGG*A}};
    \node[mr] (j32) at (2945,3412) {\sq{5’}};
  \end{scope}

\end{tikzpicture}
\end{document}
